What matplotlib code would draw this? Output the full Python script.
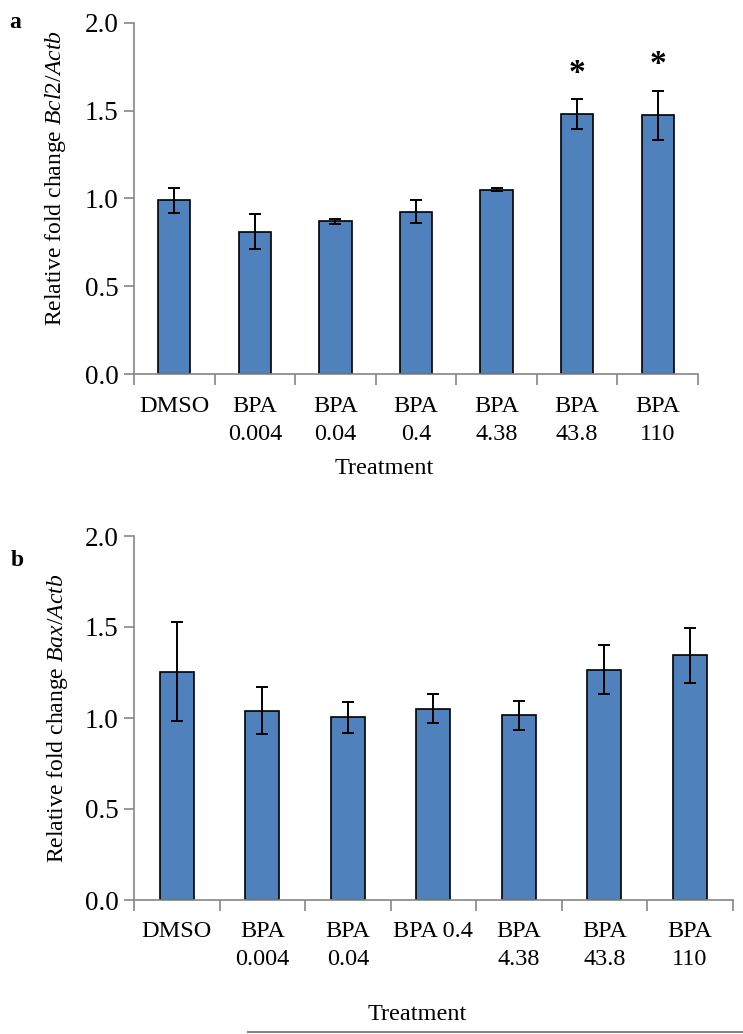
import numpy as np
import matplotlib
matplotlib.use("Agg")
import matplotlib.pyplot as plt
from matplotlib.lines import Line2D

plt.rcParams['font.family'] = ['Liberation Serif', 'DejaVu Serif']
plt.rcParams['mathtext.fontset'] = 'custom'
plt.rcParams['mathtext.rm'] = 'Liberation Serif'
plt.rcParams['mathtext.it'] = 'Liberation Serif:italic'

# panel a - Bcl2/Actb
labels_a = ["DMSO", "BPA\n0.004", "BPA\n0.04", "BPA\n0.4", "BPA\n4.38", "BPA\n43.8", "BPA\n110"]
bcl2 = [0.99, 0.81, 0.87, 0.925, 1.05, 1.48, 1.475]
bcl2_err = [0.07, 0.10, 0.015, 0.065, 0.01, 0.085, 0.14]
bcl2_sig = [False, False, False, False, False, True, True]

# panel b - Bax/Actb
labels_b = ["DMSO", "BPA\n0.004", "BPA\n0.04", "BPA 0.4", "BPA\n4.38", "BPA\n43.8", "BPA\n110"]
bax = [1.255, 1.04, 1.005, 1.05, 1.015, 1.265, 1.345]
bax_err = [0.27, 0.13, 0.085, 0.08, 0.08, 0.135, 0.15]

yticks = [0.0, 0.5, 1.0, 1.5, 2.0]

W, H = 743, 1034
fig = plt.figure(figsize=(W / 100, H / 100), dpi=100)

bar_col = '#4F81BD'
axis_col = '#868686'


def panel(rect, labels, vals, errs, pad):
    ax = fig.add_axes(rect)
    x = np.arange(len(vals))
    ax.bar(x, vals, width=0.4, color=bar_col, edgecolor='black', linewidth=1.2, zorder=2)
    ax.errorbar(x, vals, yerr=errs, fmt='none', ecolor='black', elinewidth=1.4,
                capsize=4.5, capthick=1.4, zorder=3)
    ax.set_xlim(-0.5, len(vals) - 0.5)
    ax.set_ylim(0, 2.0)
    ax.set_yticks(yticks)
    ax.set_yticklabels([f"{v:.1f}" for v in yticks], fontsize=19.5)
    ax.set_xticks(x)
    ax.set_xticklabels(labels, fontsize=17.5, linespacing=1.45)
    ax.set_xticks(np.arange(len(vals) + 1) - 0.5, minor=True)
    ax.tick_params(axis='x', which='major', length=0, pad=pad)
    ax.tick_params(axis='x', which='minor', length=8, width=1.2, color=axis_col, direction='out')
    ax.tick_params(axis='y', length=7, width=1.2, color=axis_col, direction='out', pad=4)
    for s in ['top', 'right']:
        ax.spines[s].set_visible(False)
    for s in ['left', 'bottom']:
        ax.spines[s].set_color(axis_col)
        ax.spines[s].set_linewidth(1.2)
    return ax


ax_a = panel([134 / W, 1 - 374 / H, 564 / W, 351 / H], labels_a, bcl2, bcl2_err, 16)
for i, (v, e, s) in enumerate(zip(bcl2, bcl2_err, bcl2_sig)):
    if s:
        ax_a.text(i, v + e + 0.06, '*', ha='center', va='bottom', fontsize=24, fontweight='bold')

ax_b = panel([134 / W, 1 - 900 / H, 598.5 / W, 364 / H], labels_b, bax, bax_err, 15)

fig.text(56 / W, 1 - 178 / H, 'Relative fold change $\\mathit{Bcl2/Actb}$', rotation=90,
         ha='center', va='center', fontsize=17)
fig.text(57 / W, 1 - 718 / H, 'Relative fold change $\\mathit{Bax/Actb}$', rotation=90,
         ha='center', va='center', fontsize=17)

fig.text(384 / W, 1 - 468 / H, 'Treatment', ha='center', va='center', fontsize=17.5)
fig.text(417 / W, 1 - 1015 / H, 'Treatment', ha='center', va='center', fontsize=17.5)

fig.text(15 / W, 1 - 22 / H, 'a', ha='center', va='center', fontsize=17, fontweight='bold')
fig.text(17 / W, 1 - 561 / H, 'b', ha='center', va='center', fontsize=17, fontweight='bold')

fig.add_artist(Line2D([248 / W, 1.0], [1 - 1032 / H, 1 - 1032 / H], color=axis_col,
                      linewidth=1.5, transform=fig.transFigure))

fig.savefig('out.png', dpi=100)
